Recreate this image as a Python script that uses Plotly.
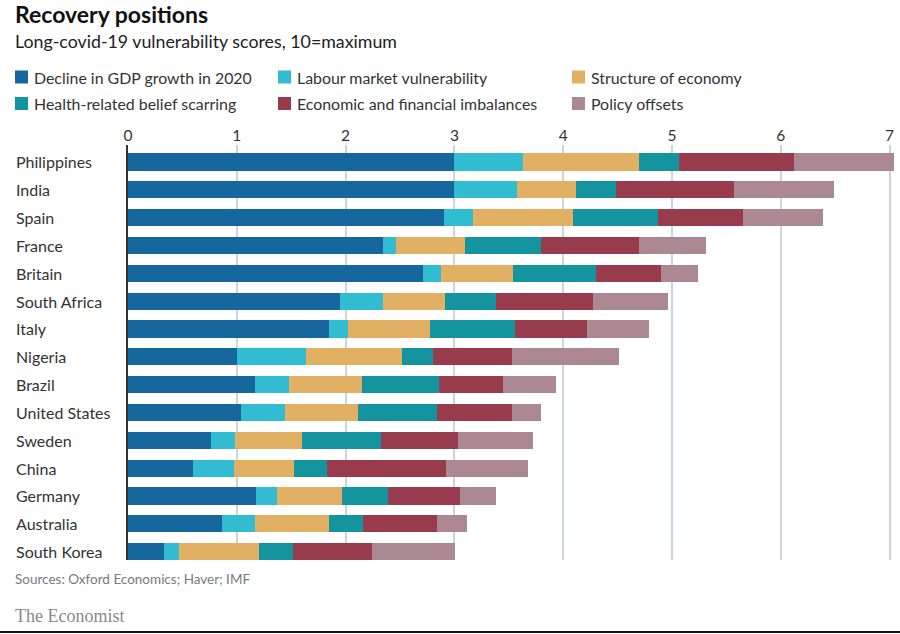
import plotly.graph_objects as go

countries = ["Philippines", "India", "Spain", "France", "Britain", "South Africa", "Italy",
             "Nigeria", "Brazil", "United States", "Sweden", "China", "Germany", "Australia",
             "South Korea"]

series_names = ["Decline in GDP growth in 2020", "Labour market vulnerability", "Structure of economy",
                "Health-related belief scarring", "Economic and financial imbalances", "Policy offsets"]

gdp_decline = [3.00, 3.00, 2.90, 2.34, 2.71, 1.95, 1.85, 1.00, 1.17, 1.04, 0.76, 0.60, 1.18, 0.86, 0.33]
labour_market = [0.63, 0.58, 0.27, 0.12, 0.17, 0.39, 0.17, 0.64, 0.31, 0.40, 0.22, 0.37, 0.19, 0.31, 0.14]
structure = [1.07, 0.54, 0.92, 0.64, 0.66, 0.57, 0.76, 0.88, 0.67, 0.67, 0.62, 0.56, 0.60, 0.68, 0.73]
health_scarring = [0.36, 0.37, 0.78, 0.70, 0.76, 0.47, 0.78, 0.28, 0.71, 0.73, 0.73, 0.30, 0.42, 0.31, 0.32]
imbalances = [1.06, 1.08, 0.78, 0.90, 0.60, 0.89, 0.66, 0.73, 0.59, 0.69, 0.70, 1.09, 0.66, 0.68, 0.72]
policy_offsets = [0.92, 0.92, 0.74, 0.61, 0.34, 0.69, 0.57, 0.98, 0.48, 0.27, 0.69, 0.76, 0.33, 0.28, 0.77]

x_ticks = [0, 1, 2, 3, 4, 5, 6, 7]

series_values = [gdp_decline, labour_market, structure, health_scarring, imbalances, policy_offsets]
colors = ["#15679D", "#31BCD2", "#E2B062", "#13949E", "#973B4D", "#AC8892"]

W, H = 900, 634
L, R, T, B = 128, 5, 145, 74
PW, PH = W - L - R, H - T - B


def px2x(px):
    return (px - L) / PW


def py2y(py):
    return (H - B - py) / PH


fig = go.Figure()
for name, vals, col in zip(series_names, series_values, colors):
    fig.add_trace(go.Bar(
        y=countries, x=vals, name=name, orientation="h",
        marker=dict(color=col, line=dict(width=0)), width=0.62,
        showlegend=False,
    ))

font = "Lato, 'Open Sans', sans-serif"
annotations = []
shapes = []

# Title / subtitle
annotations.append(dict(text="<b>Recovery positions</b>", x=px2x(13), y=py2y(14), xref="paper", yref="paper",
                        xanchor="left", yanchor="middle", showarrow=False,
                        font=dict(family=font, size=23, color="#111111")))
annotations.append(dict(text="Long-covid-19 vulnerability scores, 10=maximum", x=px2x(13), y=py2y(41),
                        xref="paper", yref="paper", xanchor="left", yanchor="middle", showarrow=False,
                        font=dict(family=font, size=17.8, color="#222222")))

# Legend (manual, 3 columns x 2 rows)
col_sq_x = [15, 278, 572]
row_y = [77, 103.5]
for i, (name, col) in enumerate(zip(series_names, colors)):
    r, c = divmod(i, 3)
    sx = col_sq_x[c]
    cy = row_y[r]
    shapes.append(dict(type="rect", xref="paper", yref="paper",
                       x0=px2x(sx), x1=px2x(sx + 13), y0=py2y(cy - 6.5), y1=py2y(cy + 6.5),
                       fillcolor=col, line=dict(width=0)))
    annotations.append(dict(text=name, x=px2x(sx + 17), y=py2y(cy), xref="paper", yref="paper",
                            xanchor="left", yanchor="middle", showarrow=False,
                            font=dict(family=font, size=15.9, color="#333333")))

# Country labels, left aligned
for c in countries:
    annotations.append(dict(text=c, x=px2x(14), y=c, xref="paper", yref="y",
                            xanchor="left", yanchor="middle", showarrow=False,
                            font=dict(family=font, size=16, color="#333333")))

# Source and branding
annotations.append(dict(text="Sources: Oxford Economics; Haver; IMF", x=px2x(13), y=py2y(579),
                        xref="paper", yref="paper", xanchor="left", yanchor="middle", showarrow=False,
                        font=dict(family=font, size=13.5, color="#7a7a7a")))
annotations.append(dict(text="The Economist", x=px2x(13), y=py2y(616),
                        xref="paper", yref="paper", xanchor="left", yanchor="middle", showarrow=False,
                        font=dict(family="'Liberation Serif', 'DejaVu Serif', serif", size=18, color="#8a8a8a")))

# Bottom rule
shapes.append(dict(type="line", xref="paper", yref="paper", x0=px2x(0), x1=px2x(W),
                   y0=py2y(632), y1=py2y(632), line=dict(color="#111111", width=2)))

fig.update_layout(
    width=W, height=H,
    margin=dict(l=L, r=R, t=T, b=B, pad=0),
    paper_bgcolor="white", plot_bgcolor="white",
    barmode="stack", bargap=0.38,
    showlegend=False,
    annotations=annotations, shapes=shapes,
    xaxis=dict(side="top", range=[0, 7.05], tickvals=x_ticks, ticktext=[str(t) for t in x_ticks],
               showgrid=True, gridcolor="#CBD5DE", gridwidth=1.8, zeroline=False,
               showline=False, ticks="", tickfont=dict(family=font, size=15.5, color="#333333"),
               fixedrange=True),
    yaxis=dict(categoryorder="array", categoryarray=countries, range=[14.3, -0.61],
               showticklabels=False, showgrid=False, zeroline=False, ticks="",
               showline=True, linecolor="#333333", linewidth=1.5, fixedrange=True),
)

fig.write_html("out.html", config={"displayModeBar": False},
               post_script="document.body.style.margin='0';document.body.style.padding='0';")
